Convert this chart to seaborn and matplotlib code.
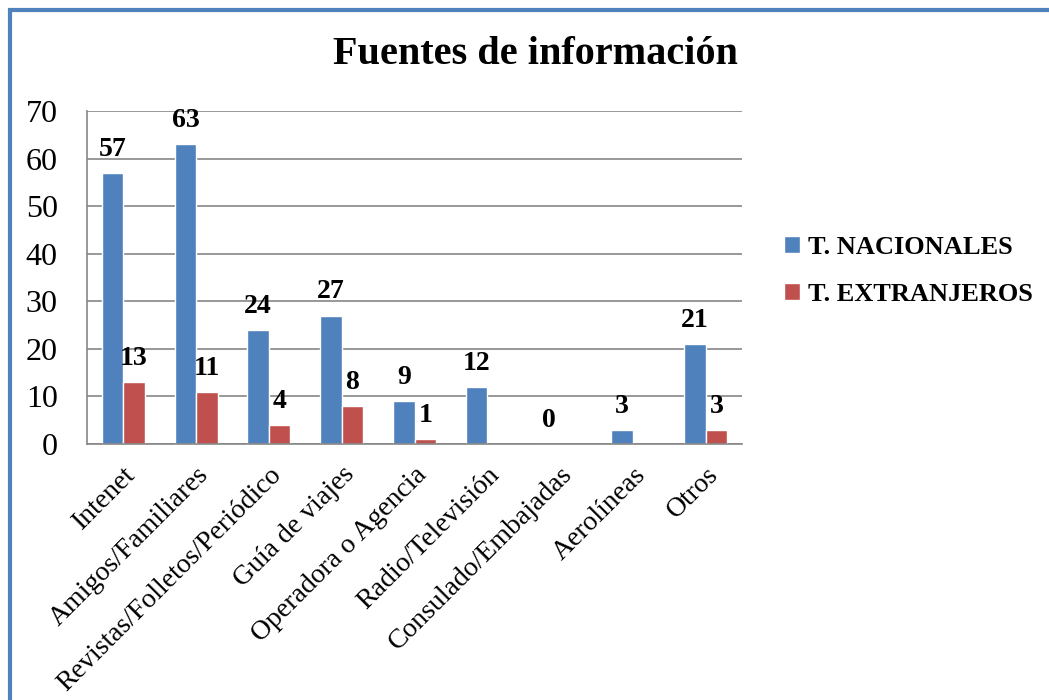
import matplotlib
matplotlib.use("Agg")
import matplotlib.pyplot as plt
import seaborn as sns
import pandas as pd
import numpy as np
from matplotlib.patches import Rectangle

categories = ["Intenet", "Amigos/Familiares", "Revistas/Folletos/Periódico",
              "Guía de viajes", "Operadora o Agencia", "Radio/Televisión",
              "Consulado/Embajadas", "Aerolíneas", "Otros"]
nacionales = [57, 63, 24, 27, 9, 12, 0, 3, 21]
extranjeros = [13, 11, 4, 8, 1, np.nan, np.nan, np.nan, 3]
series = ["T. NACIONALES", "T. EXTRANJEROS"]
yticks = [0, 10, 20, 30, 40, 50, 60, 70]

df = pd.DataFrame({
    "cat": categories * 2,
    "serie": [series[0]] * len(categories) + [series[1]] * len(categories),
    "val": nacionales + extranjeros,
})

sns.set_theme(style="white")
plt.rcParams["font.family"] = ["Liberation Serif", "DejaVu Serif"]
plt.rcParams["text.color"] = "black"
plt.rcParams["xtick.color"] = "black"
plt.rcParams["ytick.color"] = "black"

fig = plt.figure(figsize=(10.49, 7.0), dpi=100)
ax = fig.add_axes([87/1049, 1 - 444/700, (742-87)/1049, (444-111)/700])

sns.barplot(data=df, x="cat", y="val", hue="serie", order=categories,
            hue_order=series, palette=["#4F81BD", "#C0504D"],
            width=0.59, dodge=True, ax=ax, errorbar=None, saturation=1)

for cont in ax.containers:
    ax.bar_label(cont, fmt="%d", fontsize=20, fontweight="bold", padding=8,
                 color="black")

ax.set_ylim(0, 70)
ax.set_yticks(yticks)
ax.set_yticklabels([str(t) for t in yticks], fontsize=23)
ax.tick_params(axis="y", length=0, pad=21)
ax.tick_params(axis="x", length=0, pad=13)
ax.set_xticks(range(len(categories)))
ax.set_xticklabels(categories, rotation=45, ha="right", rotation_mode="anchor", fontsize=20)
ax.set_xlim(-0.5, len(categories) - 0.5)
ax.grid(axis="y", color="#868686", linewidth=1.2)
ax.set_axisbelow(True)
for s in ["top", "right"]:
    ax.spines[s].set_visible(False)
for s in ["left", "bottom"]:
    ax.spines[s].set_color("#868686")
    ax.spines[s].set_linewidth(1.2)
ax.set_xlabel("")
ax.set_ylabel("")

leg = ax.legend(loc="center left", bbox_to_anchor=(760/1049, 1 - 271/700),
                bbox_transform=fig.transFigure, frameon=False,
                prop={"size": 19, "weight": "bold"}, handlelength=0.6,
                handleheight=0.6, handletextpad=0.3, labelspacing=0.9)

fig.text(535/1049, 1 - 55/700, "Fuentes de información", ha="center", va="center",
         fontsize=29, fontweight="bold")

fig.patches.append(Rectangle((10/1049, -0.1), 1.2, 1 - 10/700 + 0.1,
                             transform=fig.transFigure, fill=False,
                             edgecolor="#4F81BD", linewidth=3))

fig.savefig("out.png", dpi=100)
